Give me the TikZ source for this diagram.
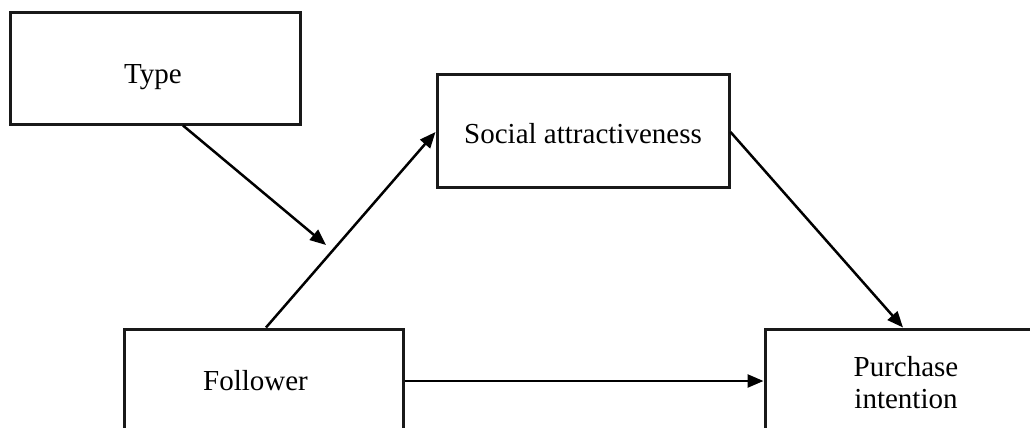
\documentclass[tikz,border=0pt]{standalone}
\usepackage{fontspec}
\setmainfont{Liberation Serif}
\usetikzlibrary{arrows.meta}
\begin{document}
\begin{tikzpicture}[x=1pt,y=-1pt,
  box/.style={draw=black!90,line width=3pt,inner sep=0pt,align=center,
    font=\fontsize{29}{32}\selectfont},
  conn/.style={draw=black,line width=2.5pt,-{Triangle[length=16pt,width=13pt]}}]
\clip (0,0) rectangle (1030,428);
\fill[white] (0,0) rectangle (1030,428);
\node[box,minimum width=290pt,minimum height=111pt] (type) at (155,68.5) {\raisebox{-14.5pt}[0pt][0pt]{\hspace*{-4pt}Type}};
\node[box,minimum width=292pt,minimum height=113pt] (soc) at (583,130.5) {\raisebox{-12.5pt}[0pt][0pt]{Social attractiveness}};
\node[box,minimum width=279pt,minimum height=106pt] (fol) at (263.5,382) {\raisebox{-8pt}[0pt][0pt]{\hspace*{-16pt}Follower}};
\node[box,minimum width=282pt,minimum height=108pt] (pur) at (906,383) {Purchase\\intention};
\coordinate (mod) at (326,245);
\draw[conn] ([xshift=28pt]type.south) -- (mod);
\draw[conn] ([xshift=2.5pt]fol.north) -- ([yshift=-1.5pt]soc.west);
\draw[conn] ([yshift=-1.5pt]soc.east) -- ([xshift=-3pt]pur.north);
\draw[conn] ([yshift=1pt]fol.east) -- ([yshift=2pt]pur.west);
\end{tikzpicture}
\end{document}
